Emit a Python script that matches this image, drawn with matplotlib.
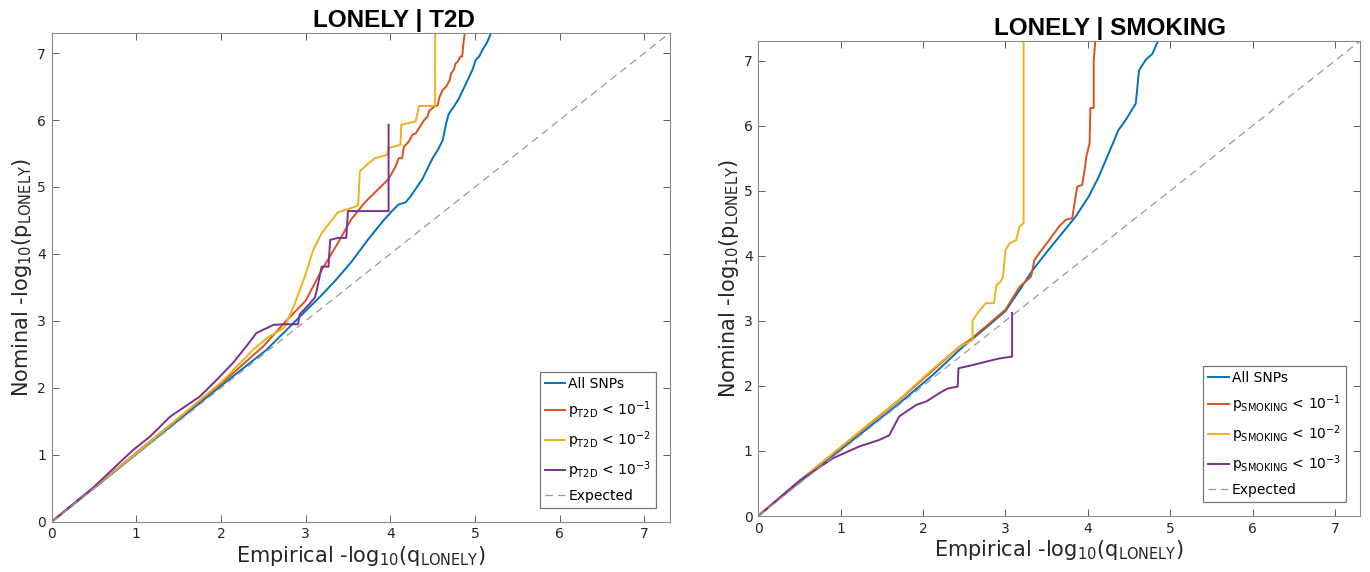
import numpy as np
import matplotlib
matplotlib.use("Agg")
import matplotlib.pyplot as plt

plt.rcParams["font.family"] = ["DejaVu Sans"]
plt.rcParams["mathtext.default"] = "regular"

# MATLAB default line colours
C_ALL = "#0072BD"
C_P1 = "#D95319"
C_P2 = "#EDB120"
C_P3 = "#7E2F8E"
C_EXP = "#9a9a9a"

LIM = 7.3

# ---- LONELY | T2D ----
t2d_all_x = [0, 0.5, 1.0, 1.5, 2.0, 2.54, 2.93, 3.17, 3.35, 3.54, 3.74, 3.92, 4.02, 4.10, 4.18,
             4.24, 4.38, 4.50, 4.56, 4.62, 4.66, 4.69, 4.75, 4.81, 4.87, 4.93, 4.97, 5.01,
             5.05, 5.09, 5.14, 5.19]
t2d_all_y = [0, 0.5, 1.01, 1.52, 2.03, 2.57, 3.06, 3.36, 3.6, 3.88, 4.22, 4.5, 4.64, 4.74, 4.77,
             4.86, 5.12, 5.43, 5.55, 5.70, 5.95, 6.09, 6.2, 6.32, 6.48, 6.64, 6.75, 6.90,
             6.95, 7.05, 7.15, 7.3]

t2d_p1_x = [0, 0.5, 1.0, 1.5, 2.0, 2.5, 2.77, 3.0, 3.19, 3.38, 3.54, 3.70, 3.86, 3.98, 4.06,
            4.10, 4.14, 4.16, 4.22, 4.26, 4.30, 4.34, 4.40, 4.44, 4.46, 4.52, 4.56, 4.58,
            4.62, 4.66, 4.70, 4.72, 4.75, 4.77, 4.80, 4.83, 4.85, 4.86, 4.88]
t2d_p1_y = [0, 0.51, 1.03, 1.55, 2.06, 2.62, 3.0, 3.3, 3.76, 4.16, 4.52, 4.77, 4.97, 5.12, 5.3,
            5.43, 5.43, 5.6, 5.68, 5.78, 5.80, 5.88, 6.0, 6.05, 6.14, 6.2, 6.22, 6.34,
            6.45, 6.5, 6.59, 6.7, 6.75, 6.84, 6.88, 6.95, 6.95, 7.1, 7.3]

t2d_p2_x = [0, 0.5, 1.0, 1.5, 2.0, 2.38, 2.55, 2.75, 2.87, 2.99, 3.09, 3.19, 3.38, 3.62, 3.64,
            3.72, 3.82, 3.96, 3.98, 4.12, 4.13, 4.30, 4.34, 4.53, 4.53]
t2d_p2_y = [0, 0.51, 1.02, 1.55, 2.08, 2.57, 2.75, 2.90, 3.25, 3.66, 4.06, 4.31, 4.62, 4.72, 5.23,
            5.33, 5.43, 5.48, 5.58, 5.63, 5.93, 5.98, 6.21, 6.21, 7.3]

t2d_p3_x = [0, 0.5, 0.96, 1.16, 1.40, 1.75, 1.95, 2.14, 2.30, 2.42, 2.62, 2.75, 2.91, 2.93,
            3.03, 3.11, 3.13, 3.19, 3.27, 3.29, 3.38, 3.48, 3.50, 3.98, 3.98]
t2d_p3_y = [0, 0.52, 1.07, 1.27, 1.57, 1.87, 2.12, 2.37, 2.62, 2.82, 2.94, 2.95, 2.95, 3.10,
            3.23, 3.35, 3.45, 3.81, 3.81, 4.21, 4.24, 4.24, 4.64, 4.64, 5.93]

# ---- LONELY | SMOKING ----
smk_all_x = [0, 0.51, 1.31, 1.71, 2.12, 2.44, 2.56, 2.76, 3.0, 3.17, 3.33, 3.49, 3.65, 3.85,
             4.01, 4.13, 4.25, 4.37, 4.46, 4.58, 4.62, 4.70, 4.78, 4.85]
smk_all_y = [0, 0.53, 1.33, 1.73, 2.17, 2.55, 2.68, 2.89, 3.15, 3.47, 3.78, 4.04, 4.29, 4.60,
             4.91, 5.21, 5.57, 5.93, 6.09, 6.34, 6.85, 7.01, 7.1, 7.3]

smk_p1_x = [0, 0.51, 1.31, 1.71, 2.12, 2.44, 2.56, 2.76, 3.0, 3.17, 3.31, 3.35, 3.41, 3.53,
            3.65, 3.73, 3.81, 3.85, 3.87, 3.93, 3.96, 3.98, 4.02, 4.03, 4.07, 4.07, 4.09]
smk_p1_y = [0, 0.55, 1.37, 1.78, 2.24, 2.60, 2.70, 2.91, 3.17, 3.52, 3.68, 3.93, 4.04, 4.24,
            4.45, 4.55, 4.58, 4.91, 5.06, 5.09, 5.32, 5.52, 5.73, 6.27, 6.27, 7.0, 7.3]

smk_p2_x = [0, 0.51, 1.31, 1.71, 2.12, 2.44, 2.60, 2.60, 2.65, 2.76, 2.86, 2.89, 2.94, 2.97,
            3.0, 3.05, 3.13, 3.17, 3.22, 3.22]
smk_p2_y = [0, 0.55, 1.38, 1.79, 2.26, 2.60, 2.70, 3.0, 3.1, 3.27, 3.27, 3.55, 3.6, 3.68,
            4.09, 4.19, 4.24, 4.45, 4.50, 7.3]

smk_p3_x = [0, 0.51, 0.91, 1.23, 1.47, 1.59, 1.71, 1.92, 2.04, 2.20, 2.30, 2.42, 2.43, 2.60,
            2.92, 3.08, 3.08]
smk_p3_y = [0, 0.55, 0.89, 1.07, 1.17, 1.24, 1.53, 1.71, 1.76, 1.89, 1.96, 1.99, 2.27, 2.32,
            2.42, 2.45, 3.12]

t2d_labels = ["All SNPs", r"p$_{T2D}$ < 10$^{-1}$", r"p$_{T2D}$ < 10$^{-2}$",
              r"p$_{T2D}$ < 10$^{-3}$", "Expected"]
smk_labels = ["All SNPs", r"p$_{SMOKING}$ < 10$^{-1}$", r"p$_{SMOKING}$ < 10$^{-2}$",
              r"p$_{SMOKING}$ < 10$^{-3}$", "Expected"]

fig = plt.figure(figsize=(13.7, 5.72), dpi=100)
ax1 = fig.add_axes([0.0377, 0.0879, 0.4511, 0.8544])
ax2 = fig.add_axes([0.5534, 0.0979, 0.4393, 0.8304])


def draw(ax, curves, labels):
    colors = [C_ALL, C_P1, C_P2, C_P3]
    for (xs, ys), c, lab in zip(curves, colors, labels):
        ax.plot(xs, ys, color=c, lw=1.4, label=lab)
    ax.plot([0, LIM], [0, LIM], color=C_EXP, lw=0.9, ls=(0, (6, 4)), label=labels[-1])
    ax.set_xlim(0, LIM)
    ax.set_ylim(0, LIM)
    ax.set_xticks(range(8))
    ax.set_yticks(range(8))
    ax.tick_params(direction="in", top=True, right=True, length=5, width=0.6,
                   labelsize=10, colors="#444444", labelcolor="#262626", pad=4)
    for s in ax.spines.values():
        s.set_color("#8a8a8a")
        s.set_linewidth(0.8)
    ax.set_xlabel(r"Empirical -log$_{10}$(q$_{LONELY}$)", fontsize=15, color="#262626", labelpad=2)
    ax.set_ylabel(r"Nominal -log$_{10}$(p$_{LONELY}$)", fontsize=15, color="#262626", labelpad=2)
    leg = ax.legend(loc="lower right", fontsize=10, frameon=True, fancybox=False,
                    handlelength=1.5, handletextpad=0.2, labelspacing=0.6,
                    borderpad=0.35, borderaxespad=1.0)
    leg.get_frame().set_edgecolor("#555555")
    leg.get_frame().set_linewidth(0.9)


draw(ax1, [(t2d_all_x, t2d_all_y), (t2d_p1_x, t2d_p1_y), (t2d_p2_x, t2d_p2_y),
           (t2d_p3_x, t2d_p3_y)], t2d_labels)
draw(ax2, [(smk_all_x, smk_all_y), (smk_p1_x, smk_p1_y), (smk_p2_x, smk_p2_y),
           (smk_p3_x, smk_p3_y)], smk_labels)

fig.text(394 / 1370, 1 - 20 / 572, "LONELY | T2D", ha="center", va="center",
         fontsize=17.5, fontweight="bold", family="Liberation Sans")
fig.text(1110 / 1370, 1 - 29 / 572, "LONELY | SMOKING", ha="center", va="center",
         fontsize=17.5, fontweight="bold", family="Liberation Sans")

fig.savefig("out.png", dpi=100)
